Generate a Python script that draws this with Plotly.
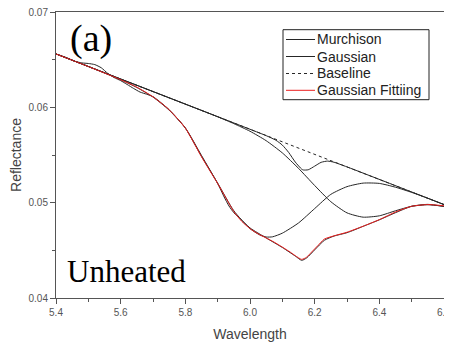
import plotly.graph_objects as go

# ---- data ----
baseline_x = [5.40, 6.60]
baseline_y = [0.0656, 0.0498]

murchison_x = [5.40, 5.43, 5.46, 5.48, 5.50, 5.52, 5.54, 5.56, 5.58, 5.60, 5.62, 5.64, 5.66, 5.68,
               5.70, 5.72, 5.75, 5.80, 5.85, 5.90, 5.92, 5.935, 5.95, 5.97, 6.00, 6.05, 6.10, 6.14,
               6.16, 6.175, 6.20, 6.23, 6.26, 6.30, 6.35, 6.40, 6.45, 6.50, 6.55, 6.60]
murchison_y = [0.06560, 0.06525, 0.06482, 0.06466, 0.06460, 0.06448, 0.06415, 0.06356, 0.06312,
               0.06280, 0.06240, 0.06198, 0.06160, 0.06138, 0.06112, 0.06062, 0.05975, 0.05785,
               0.05495, 0.05200, 0.05060, 0.04965, 0.04895, 0.04830, 0.04735, 0.04630, 0.04530,
               0.04440, 0.04395, 0.04420, 0.04505, 0.04605, 0.04650, 0.04685, 0.04752, 0.04820,
               0.04895, 0.04962, 0.04982, 0.04960]

fit_x = [5.40, 5.45, 5.50, 5.55, 5.60, 5.65, 5.70, 5.75, 5.80, 5.85, 5.875, 5.90, 5.925, 5.95,
         5.975, 6.00, 6.025, 6.05, 6.075, 6.10, 6.125, 6.14, 6.16, 6.175, 6.19, 6.21, 6.23, 6.26,
         6.30, 6.35, 6.40, 6.45, 6.50, 6.55, 6.60]
fit_y = [0.06560, 0.06494, 0.06428, 0.06360, 0.06290, 0.06212, 0.06110, 0.05975, 0.05782,
         0.05482, 0.05340, 0.05201, 0.05051, 0.04906, 0.04802, 0.04728, 0.04673, 0.04630,
         0.04585, 0.04534, 0.04480, 0.04444, 0.04405, 0.04428, 0.04480, 0.04550, 0.04618,
         0.04652, 0.04690, 0.04753, 0.04822, 0.04902, 0.04962, 0.04980, 0.04967]

g1_x = [5.40, 5.50, 5.60, 5.65, 5.70, 5.75, 5.80, 5.85, 5.90, 5.95, 6.00, 6.03, 6.05, 6.07,
        6.10, 6.15, 6.20, 6.25, 6.30, 6.35, 6.40, 6.45, 6.50, 6.55, 6.60]
g1_y = [0.06560, 0.06428, 0.06290, 0.06208, 0.06108, 0.05970, 0.05782, 0.05485, 0.05205,
        0.04915, 0.04728, 0.04662, 0.04640, 0.04642, 0.04680, 0.04787, 0.04938, 0.05087,
        0.05168, 0.05205, 0.05202, 0.05162, 0.05108, 0.05046, 0.04980]

g2_x = [5.40, 6.00, 6.05, 6.08, 6.10, 6.12, 6.14, 6.16, 6.165, 6.18, 6.20, 6.22, 6.24, 6.26,
        6.30, 6.60]
g2_y = [0.06560, 0.05770, 0.05703, 0.05655, 0.05604, 0.05525, 0.05426, 0.05351, 0.05343,
        0.05345, 0.05383, 0.05423, 0.05436, 0.05424, 0.05375, 0.04980]

g3_x = [5.40, 5.90, 5.95, 6.00, 6.05, 6.10, 6.15, 6.20, 6.25, 6.30, 6.35, 6.40, 6.45, 6.50,
        6.55, 6.60]
g3_y = [0.06560, 0.05901, 0.05829, 0.05749, 0.05650, 0.05522, 0.05360, 0.05180, 0.05010,
        0.04893, 0.04848, 0.04862, 0.04915, 0.04962, 0.04978, 0.04962]

x_ticks = [5.4, 5.6, 5.8, 6.0, 6.2, 6.4, 6.6]
x_tick_labels = ["5.4", "5.6", "5.8", "6.0", "6.2", "6.4", "6.6"]
x_minor_ticks = [5.5, 5.7, 5.9, 6.1, 6.3, 6.5]
y_ticks = [0.04, 0.05, 0.06, 0.07]
y_tick_labels = ["0.04", "0.05", "0.06", "0.07"]
y_minor_ticks = [0.045, 0.055, 0.065]

legend_names = ["Murchison", "Gaussian", "Baseline", "Gaussian Fittiing"]

BLACK = "#262626"
RED = "rgb(235,30,30)"

# the page body adds an 8px offset; size the figure so the plot lands where the original is
OFF = 8
W, H = 452 - OFF, 349 - OFF
ML, MR, MT, MB = 48, 8, 4, 51
PW, PH = W - ML - MR, H - MT - MB


def px_x(p):  # page pixel -> paper x
    return (p - OFF - ML) / PW


def px_y(p):  # page pixel -> paper y
    return (H - MB - (p - OFF)) / PH


fig = go.Figure()

spl = dict(width=1, shape="spline", smoothing=0.6)
fig.add_trace(go.Scatter(x=murchison_x, y=murchison_y, mode="lines", name=legend_names[0],
                         line=dict(color=BLACK, **spl)))
fig.add_trace(go.Scatter(x=g1_x, y=g1_y, mode="lines", name=legend_names[1],
                         line=dict(color=BLACK, **spl)))
fig.add_trace(go.Scatter(x=g2_x, y=g2_y, mode="lines", name=legend_names[1],
                         line=dict(color=BLACK, **spl)))
fig.add_trace(go.Scatter(x=g3_x, y=g3_y, mode="lines", name=legend_names[1],
                         line=dict(color=BLACK, **spl)))
fig.add_trace(go.Scatter(x=baseline_x, y=baseline_y, mode="lines", name=legend_names[2],
                         line=dict(color=BLACK, width=1, dash="dot")))
fig.add_trace(go.Scatter(x=fit_x, y=fit_y, mode="lines", name=legend_names[3],
                         line=dict(color=RED, **spl)))

font_sans = "Liberation Sans, Arial, sans-serif"

# hand-built legend box (to match the compact original layout)
shapes = [dict(type="rect", xref="paper", yref="paper",
               x0=px_x(283), x1=px_x(429), y0=px_y(29.7), y1=px_y(99.7),
               line=dict(color="#222", width=1), fillcolor="white", layer="above")]
annotations = []
row_y = [39.5, 56.5, 73.5, 90.3]
row_style = [dict(color=BLACK, dash="solid"), dict(color=BLACK, dash="solid"),
             dict(color=BLACK, dash="dot"), dict(color=RED, dash="solid")]
for name, ry, st in zip(legend_names, row_y, row_style):
    shapes.append(dict(type="line", xref="paper", yref="paper",
                       x0=px_x(286), x1=px_x(315), y0=px_y(ry), y1=px_y(ry),
                       line=dict(color=st["color"], width=1, dash=st["dash"]), layer="above"))
    annotations.append(dict(text=name, x=px_x(315), y=px_y(ry), xref="paper", yref="paper",
                            xanchor="left", yanchor="middle", showarrow=False,
                            font=dict(family=font_sans, size=14, color="#222")))

annotations += [
    dict(text="(a)", x=px_x(68), y=0.99, xref="paper", yref="paper",
         xanchor="left", yanchor="top", showarrow=False,
         font=dict(family="Liberation Serif, Times New Roman, serif", size=38, color="black")),
    dict(text="Unheated", x=px_x(65), y=0.024, xref="paper", yref="paper",
         xanchor="left", yanchor="bottom", showarrow=False,
         font=dict(family="Liberation Serif, Times New Roman, serif", size=31, color="black")),
]

fig.update_layout(
    width=W, height=H,
    margin=dict(l=ML, r=MR, t=MT, b=MB),
    paper_bgcolor="white", plot_bgcolor="white",
    font=dict(family=font_sans, size=10, color="#555"),
    showlegend=False,
    shapes=shapes,
    annotations=annotations,
)

fig.update_xaxes(
    range=[5.4, 6.6], tickvals=x_ticks, ticktext=x_tick_labels,
    ticks="outside", ticklen=5, tickwidth=1, tickcolor="#555",
    ticklabeloverflow="allow", automargin=False,
    showline=True, linecolor="#555", linewidth=1, mirror=True,
    showgrid=False, zeroline=False,
    minor=dict(tickmode="array", tickvals=x_minor_ticks, ticks="outside", ticklen=3,
               tickcolor="#555", showgrid=False),
    title=dict(text="Wavelength", font=dict(family=font_sans, size=14, color="#444"), standoff=12),
)
fig.update_yaxes(
    range=[0.04, 0.07], tickvals=y_ticks, ticktext=y_tick_labels,
    ticks="outside", ticklen=5, tickwidth=1, tickcolor="#555",
    ticklabeloverflow="allow", automargin=False,
    showline=True, linecolor="#555", linewidth=1, mirror=True,
    showgrid=False, zeroline=False,
    minor=dict(tickmode="array", tickvals=y_minor_ticks, ticks="outside", ticklen=3,
               tickcolor="#555", showgrid=False),
    title=dict(text="Reflectance", font=dict(family=font_sans, size=14, color="#444"), standoff=5),
)

fig.write_html("out.html")
